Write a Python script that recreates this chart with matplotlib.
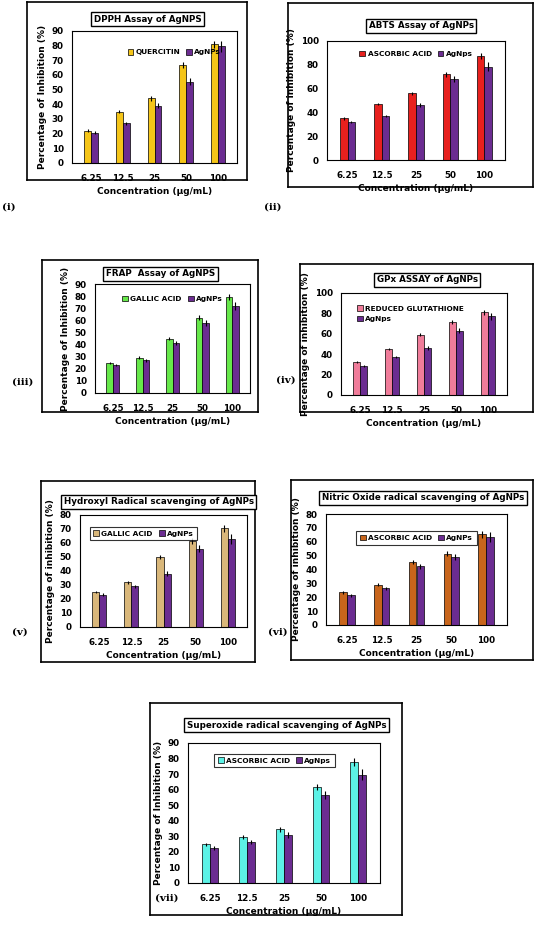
import matplotlib
matplotlib.use("Agg")
import matplotlib.pyplot as plt
import numpy as np

W, H = 535, 933

conc = ["6.25", "12.5", "25", "50", "100"]

dpph_std = [22, 35, 44, 67, 81]
dpph_ag = [20.5, 27, 39, 55.5, 79.5]
abts_std = [35, 47, 56, 72, 87]
abts_ag = [32, 37, 46.5, 68, 78.5]
frap_std = [25, 29, 45, 62, 79.5]
frap_ag = [23, 27, 41.5, 58, 72]
gpx_std = [32, 45, 59, 72, 81]
gpx_ag = [28, 37, 46, 63, 77]
oh_std = [25, 32, 50, 61.5, 70.5]
oh_ag = [23, 29, 38, 56, 63]
no_std = [23.5, 29, 45.5, 51.5, 65.5]
no_ag = [21.5, 26.5, 42.5, 49, 63.5]
so_std = [25, 29.5, 34.5, 61.5, 78]
so_ag = [22.5, 26.5, 31, 56.5, 69.5]

err_std = [1, 1.2, 1.5, 2, 2.5]
err_ag = [1, 1.2, 1.8, 2.5, 3.5]

PURPLE = "#6B2C91"

fig = plt.figure(figsize=(W / 100, H / 100), dpi=100, facecolor="white")
plt.rcParams["font.family"] = "DejaVu Sans"
plt.rcParams["font.weight"] = "bold"


def frac(x0, y0, x1, y1):
    return [x0 / W, 1 - y1 / H, (x1 - x0) / W, (y1 - y0) / H]


def panel(box, axbox, title, title_y, std, ag, color, std_lab, ag_lab, ymax, ystep,
          ylabel, tag, tag_xy, legend_frame=False, legend_cols=2, legend_loc=(0.5, 0.93)):
    # outer frame
    bx = fig.add_axes(frac(*box))
    bx.set_xticks([]); bx.set_yticks([])
    for s in bx.spines.values():
        s.set_linewidth(1.2)
    bx.patch.set_alpha(0)
    fig.text((box[0] + box[2]) / 2 / W + 0.02, 1 - title_y / H, title, ha="center", va="center",
             fontsize=6.3, fontweight="bold",
             bbox=dict(boxstyle="square,pad=0.3", fc="white", ec="black", lw=1))
    ax = fig.add_axes(frac(*axbox))
    x = np.arange(len(conc))
    w = 0.22
    ax.bar(x - w / 2, std, w, color=color, edgecolor="black", linewidth=0.5,
           yerr=err_std, error_kw=dict(lw=0.8, capsize=0), label=std_lab)
    ax.bar(x + w / 2, ag, w, color=PURPLE, edgecolor="black", linewidth=0.5,
           yerr=err_ag, error_kw=dict(lw=0.8, capsize=0), label=ag_lab)
    ax.set_xlim(-0.6, 4.6)
    ax.set_ylim(0, ymax)
    ax.set_yticks(np.arange(0, ymax + 1, ystep))
    ax.set_xticks(x)
    ax.set_xticklabels(conc)
    ax.tick_params(axis="x", length=0, pad=8, labelsize=6.3)
    ax.tick_params(axis="y", length=0, pad=6, labelsize=6.3)
    for s in ax.spines.values():
        s.set_linewidth(0.8)
    ax.set_ylabel(ylabel, fontsize=6.5, fontweight="bold", labelpad=3)
    ax.set_xlabel("Concentration (µg/mL)", fontsize=6.5, fontweight="bold", labelpad=3)
    leg = ax.legend(loc="upper center", bbox_to_anchor=legend_loc, ncol=legend_cols,
                    frameon=legend_frame, fancybox=False, handlelength=0.8,
                    handleheight=0.8, handletextpad=0.3, columnspacing=0.8,
                    borderpad=0.5, prop=dict(size=5.3, weight="bold"))
    if legend_frame:
        leg.get_frame().set_edgecolor("black")
        leg.get_frame().set_linewidth(0.8)
    fig.text(tag_xy[0] / W, 1 - tag_xy[1] / H, tag, fontsize=7.5, fontweight="bold",
             family="DejaVu Serif", ha="left", va="center")


panel((27, 2, 247, 180), (72, 31, 237, 163), "DPPH Assay of AgNPS", 19,
      dpph_std, dpph_ag, "#F5C518", "QUERCITIN", "AgNPs", 90, 10,
      "Percentage of Inhibition (%)", "(i)", (2, 207), legend_loc=(0.62, 0.92))
panel((288, 3, 533, 187), (327, 41, 505, 160), "ABTS Assay of AgNPs", 26,
      abts_std, abts_ag, "#E8201E", "ASCORBIC ACID", "AgNps", 100, 20,
      "Percentage of inhibition (%)", "(ii)", (264, 207), legend_loc=(0.5, 0.98))
panel((42, 260, 258, 412), (95, 284, 250, 393), "FRAP  Assay of AgNPS", 274,
      frap_std, frap_ag, "#66E84A", "GALLIC ACID", "AgNPs", 90, 10,
      "Percentage of Inhibition (%)", "(iii)", (12, 382), legend_loc=(0.5, 0.96))
panel((300, 264, 533, 412), (341, 293, 507, 395), "GPx ASSAY of AgNPs", 280,
      gpx_std, gpx_ag, "#F07C9A", "REDUCED GLUTATHIONE", "AgNps", 100, 20,
      "Percentage of inhibition (%)", "(iv)", (276, 380), legend_cols=1,
      legend_loc=(0.42, 0.95))
panel((41, 481, 255, 662), (80, 515, 247, 627), "Hydroxyl Radical scavenging of AgNPs", 502,
      oh_std, oh_ag, "#D9B77A", "GALLIC ACID", "AgNPs", 80, 10,
      "Percentage of inhibition (%)", "(v)", (12, 632), legend_frame=True,
      legend_loc=(0.38, 0.93))
panel((291, 480, 533, 660), (326, 514, 507, 625), "Nitric Oxide radical scavenging of AgNPs", 498,
      no_std, no_ag, "#C8651B", "ASCORBIC ACID", "AgNPs", 80, 10,
      "Percentage of inhibition (%)", "(vi)", (268, 632), legend_frame=True,
      legend_loc=(0.5, 0.88))
panel((150, 703, 402, 915), (188, 743, 380, 883), "Superoxide radical scavenging of AgNPs", 725,
      so_std, so_ag, "#5CF2E6", "ASCORBIC ACID", "AgNps", 90, 10,
      "Percentage of Inhibition (%)", "(vii)", (155, 898), legend_frame=True,
      legend_loc=(0.45, 0.95))

fig.savefig("out.png", dpi=100, facecolor="white")
